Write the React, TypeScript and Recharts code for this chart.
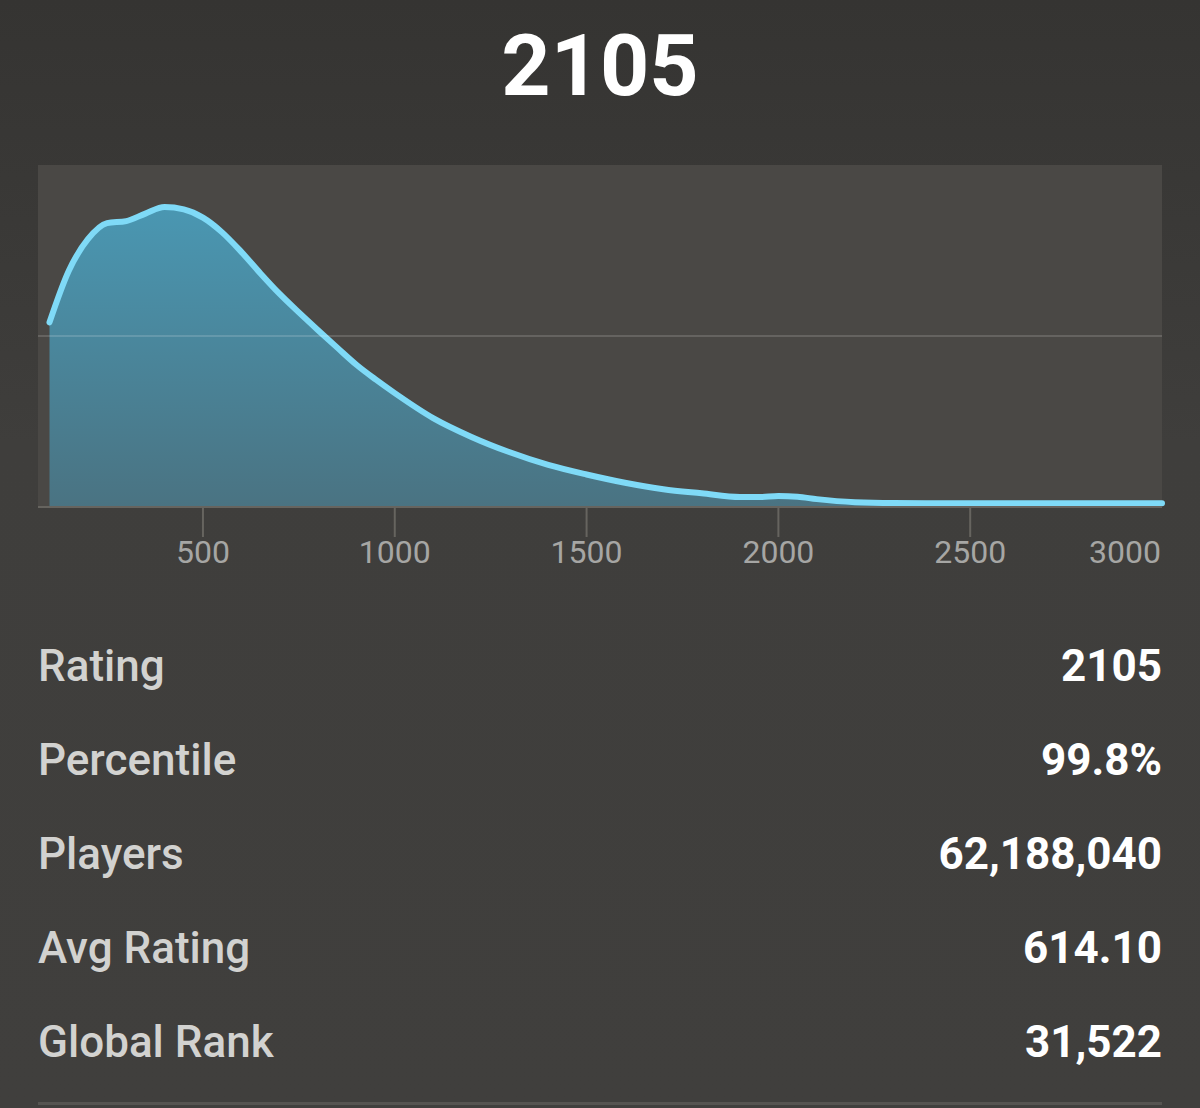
import { AreaChart, Area, XAxis, YAxis, CartesianGrid, ReferenceLine } from "recharts";

const ratings = [100, 150, 200, 250, 300, 350, 400, 450, 500, 550, 600, 650, 700, 750, 800, 850, 900, 950, 1000, 1100, 1200, 1300, 1400, 1500, 1600, 1700, 1800, 1900, 1950, 2000, 2050, 2100, 2200, 2300, 2500, 3000];
const density = [54, 69, 78.3, 83, 83.6, 85.8, 87.7, 87.0, 84.6, 80.3, 74.6, 68.3, 62.3, 56.9, 51.7, 46.6, 41.6, 37.3, 33.3, 26, 20.5, 16, 12.3, 9.5, 7.1, 5.2, 4.0, 2.9, 2.9, 3.2, 3.0, 2.3, 1.4, 1.15, 1.1, 1.1];
const xTicks = [500, 1000, 1500, 2000, 2500, 3000];

const statLabels = ["Rating", "Percentile", "Players", "Avg Rating", "Global Rank"];
const statValues = ["2105", "99.8%", "62,188,040", "614.10", "31,522"];

const data = ratings.map((r, i) => ({ rating: r, value: density[i] }));

const FONT = "Roboto, 'Noto Sans', sans-serif";

function Tick(props: any) {
  const { x, y, payload } = props;
  const last = payload.value === 3000;
  return (
    <g>
      {!last && <line x1={x} x2={x} y1={y} y2={y + 30} stroke="#66645f" strokeWidth={2} />}
      <text
        x={last ? x - 1 : x}
        y={y + 56}
        textAnchor={last ? "end" : "middle"}
        fill="#a6a6a4"
        fontSize={32}
        fontFamily={FONT}
      >
        {payload.value}
      </text>
    </g>
  );
}

export default function App() {
  return (
    <div
      style={{
        position: "absolute",
        left: 0,
        top: 0,
        width: 1200,
        height: 1108,
        overflow: "hidden",
        background: "linear-gradient(#353432, #3f3e3c 40%, #403f3d)",
        fontFamily: FONT,
      }}
    >
      <div
        style={{
          position: "absolute",
          top: 23,
          left: 0,
          width: 1200,
          textAlign: "center",
          fontSize: 86,
          lineHeight: "86px",
          fontWeight: 700,
          color: "#ffffff",
        }}
      >
        2105
      </div>

      <div style={{ position: "absolute", top: 140, left: 0 }}>
        <AreaChart width={1200} height={440} data={data} margin={{ top: 25, right: 38, bottom: 0, left: 38 }}>
          <defs>
            <linearGradient id="fillGrad" x1="0" y1="0" x2="0" y2="1">
              <stop offset="0%" stopColor="#4a97b2" />
              <stop offset="100%" stopColor="#4a7382" />
            </linearGradient>
          </defs>
          <CartesianGrid fill="#4a4845" stroke="none" horizontal={false} vertical={false} />
          <YAxis hide domain={[0, 100]} />
          <XAxis
            dataKey="rating"
            type="number"
            domain={[70, 3000]}
            ticks={xTicks}
            height={73}
            tickLine={false}
            tickSize={0}
            tickMargin={0}
            axisLine={{ stroke: "#66645f", strokeWidth: 2 }}
            tick={<Tick />}
            interval={0}
          />
          <Area
            type="monotone"
            dataKey="value"
            stroke="#7fdaf7"
            strokeWidth={6}
            strokeLinecap="round"
            fill="url(#fillGrad)"
            fillOpacity={1}
            isAnimationActive={false}
          />
          <ReferenceLine y={50} stroke="rgba(255,255,255,0.15)" strokeWidth={2} />
        </AreaChart>
      </div>

      {statLabels.map((label, i) => (
        <div
          key={label}
          style={{
            position: "absolute",
            left: 38,
            width: 1124,
            top: 644 + i * 94,
            display: "flex",
            justifyContent: "space-between",
            fontSize: 44,
            lineHeight: "44px",
          }}
        >
          <span style={{ color: "#d2d2d0", fontWeight: 500 }}>{label}</span>
          <span style={{ color: "#ffffff", fontWeight: 700 }}>{statValues[i]}</span>
        </div>
      ))}

      <div style={{ position: "absolute", left: 38, top: 1102, width: 1124, height: 3, background: "#565451" }} />
    </div>
  );
}
